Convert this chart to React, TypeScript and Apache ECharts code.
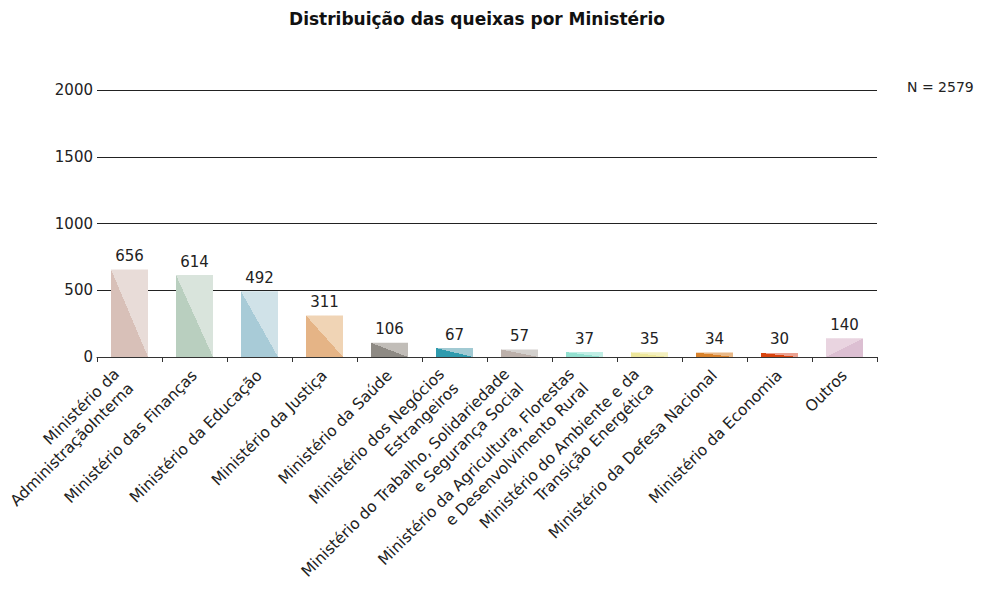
import React, { useEffect, useRef } from "react";
import * as echarts from "echarts";

const categories = [
  "Ministério da\nAdministraçãoInterna",
  "Ministério das Finanças",
  "Ministério da Educação",
  "Ministério da Justiça",
  "Ministério da Saúde",
  "Ministério dos Negócios\nEstrangeiros",
  "Ministério do Trabalho, Solidariedade\ne Segurança Social",
  "Ministério da Agricultura, Florestas\ne Desenvolvimento Rural",
  "Ministério do Ambiente e da\nTransição Energética",
  "Ministério da Defesa Nacional",
  "Ministério da Economia",
  "Outros",
];
const values = [656, 614, 492, 311, 106, 67, 57, 37, 35, 34, 30, 140];
const darkColors = [
  "#d8c0b8", "#b9cfbf", "#a8cbd7", "#e5b486", "#8e8a84", "#2f9bae",
  "#bcb0aa", "#92e0d0", "#eee79c", "#d9832d", "#d9450f", "#dcbfd2",
];
const lightColors = [
  "#e8dcd8", "#d9e4dc", "#d0e2e8", "#f0d4b5", "#c1bdb8", "#a1cad3",
  "#d3d0cd", "#c0eee5", "#f4f0bf", "#e9b887", "#eba191", "#e9d4e0",
];
const reversed = [false, false, false, false, false, false, false, false, false, false, false, true];
const yTicks = [0, 500, 1000, 1500, 2000];
const title = "Distribuição das queixas por Ministério";
const totalNote = "N = 2579";

const FONT = "DejaVu Sans";

export default function App() {
  const ref = useRef<HTMLDivElement>(null);
  useEffect(() => {
    if (!ref.current) return;
    const chart = echarts.init(ref.current, undefined, { renderer: "svg" });
    const data = values.map((v, i) => {
      const dark = darkColors[i];
      const light = lightColors[i];
      const color = reversed[i]
        ? new echarts.graphic.LinearGradient(0, 0, 1, 1, [
            { offset: 0, color: light },
            { offset: 0.5, color: light },
            { offset: 0.5, color: dark },
            { offset: 1, color: dark },
          ])
        : new echarts.graphic.LinearGradient(0, 1, 1, 0, [
            { offset: 0, color: dark },
            { offset: 0.5, color: dark },
            { offset: 0.5, color: light },
            { offset: 1, color: light },
          ]);
      return { value: v, itemStyle: { color } };
    });
    const xData = categories.map((c) =>
      c.includes("\n") ? { value: c, textStyle: { padding: [12, 8, 0, 0] } } : c
    );
    chart.setOption({
      animation: false,
      textStyle: { fontFamily: FONT },
      title: [
        {
          text: title,
          left: 472,
          textAlign: "center",
          top: 5,
          textStyle: { fontFamily: FONT, fontSize: 17, fontWeight: "bold", color: "#111" },
        },
      ],
      graphic: [
        {
          type: "text",
          left: 907,
          top: 80,
          style: { text: totalNote, fontFamily: FONT, fontSize: 14, fill: "#222" },
        },
      ],
      grid: {
        left: 97,
        right: 107,
        top: 90,
        bottom: 232,
        containLabel: false,
        outerBoundsMode: "none",
      },
      xAxis: {
        type: "category",
        data: xData,
        axisLine: { show: true, lineStyle: { color: "#333", width: 1 } },
        axisTick: { show: true, alignWithLabel: false, length: 5, lineStyle: { color: "#333" } },
        axisLabel: {
          rotate: 45,
          interval: 0,
          margin: 16,
          fontSize: 15.5,
          lineHeight: 20,
          color: "#222",
          fontFamily: FONT,
        },
      },
      yAxis: {
        type: "value",
        min: yTicks[0],
        max: yTicks[yTicks.length - 1],
        interval: 500,
        axisLine: { show: false },
        axisTick: { show: false },
        axisLabel: {
          margin: 4,
          fontSize: 15,
          color: "#222",
          fontFamily: FONT,
          formatter: (v: number) => String(v),
        },
        splitLine: { show: true, lineStyle: { color: "#222", width: 1 } },
      },
      series: [
        {
          type: "bar",
          data,
          barWidth: 37,
          label: {
            show: true,
            position: "top",
            distance: 6,
            fontSize: 15,
            color: "#222",
            fontFamily: FONT,
          },
        },
      ],
    });
    return () => chart.dispose();
  }, []);
  return <div ref={ref} style={{ width: 984, height: 589, marginLeft: -8, marginTop: -8 }} />;
}
